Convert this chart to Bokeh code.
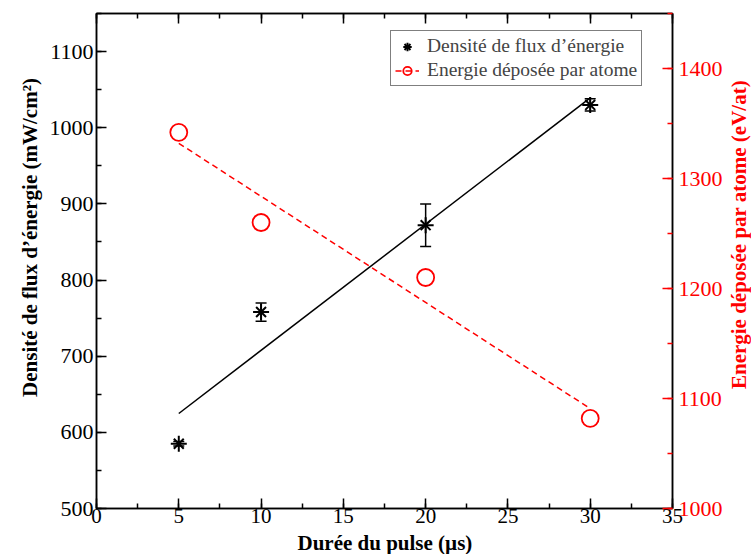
import numpy as np
from bokeh.plotting import figure
from bokeh.layouts import row, column
from bokeh.models import (Range1d, LinearAxis, SingleIntervalTicker, Whisker, TeeHead,
                          ColumnDataSource, Legend, LegendItem, CustomJSTickFormatter, Label)
from bokeh.embed import file_html
from bokeh.resources import INLINE

# ---- data ----
duree = [5, 10, 20, 30]                       # µs
densite = [585, 758, 872, 1030]               # mW/cm²
densite_err = [3, 12, 28, 8]
energie = [1342, 1260, 1210, 1082]            # eV/at

x_title = "Durée du pulse (µs)"
y_left_title = "Densité de flux d’énergie (mW/cm²)"
y_right_title = "Energie déposée par atome (eV/at)"

x_ticks_interval = 5
FONT = "Liberation Serif"

W, H = 751, 554
LEFT_W, RIGHT_W, BOTTOM_H = 44, 26, 24
MAIN_W, MAIN_H = W - LEFT_W - RIGHT_W, H - BOTTOM_H

p = figure(width=MAIN_W, height=MAIN_H, output_backend="svg", toolbar_location=None,
           x_range=Range1d(0, 35), y_range=Range1d(500, 1150),
           min_border_left=52, min_border_right=50, min_border_top=13, min_border_bottom=22,
           x_axis_location=None, y_axis_location=None)
p.grid.visible = False
p.outline_line_color = "black"
p.outline_line_width = 1.5
p.background_fill_color = "white"
p.border_fill_color = "white"
p.extra_y_ranges = {"right": Range1d(1000, 1450)}

def style(ax, color="black", size="22px"):
    ax.axis_line_color = "black"
    ax.axis_line_width = 1.5
    ax.major_tick_in = 10
    ax.major_tick_out = 0
    ax.minor_tick_in = 5
    ax.minor_tick_out = 0
    ax.major_tick_line_color = color
    ax.minor_tick_line_color = color
    ax.major_tick_line_width = 1.5
    ax.minor_tick_line_width = 1.5
    ax.major_label_text_font = FONT
    ax.major_label_text_font_size = size
    ax.major_label_text_color = color

xb = LinearAxis(ticker=SingleIntervalTicker(interval=x_ticks_interval, num_minor_ticks=2))
style(xb, size="21px")
xb.major_label_standoff = 0
p.add_layout(xb, "below")

xt = LinearAxis(ticker=SingleIntervalTicker(interval=x_ticks_interval, num_minor_ticks=2),
                formatter=CustomJSTickFormatter(code="return ''"))
style(xt)
xt.major_label_standoff = 0
p.add_layout(xt, "above")

yl = LinearAxis(ticker=SingleIntervalTicker(interval=100, num_minor_ticks=2))
style(yl)
yl.major_label_standoff = 3
p.add_layout(yl, "left")

yr = LinearAxis(y_range_name="right", ticker=SingleIntervalTicker(interval=100, num_minor_ticks=2))
style(yr, color="red")
yr.major_label_standoff = 6
p.add_layout(yr, "right")

# ---- fits ----
xs = np.array(duree, dtype=float)
fx = np.array([xs.min(), xs.max()])
k1 = np.polyfit(xs, np.array(densite, dtype=float), 1)
k2 = np.polyfit(xs, np.array(energie, dtype=float), 1)

p.line(fx, np.polyval(k1, fx), line_color="black", line_width=1.5)
red_line = p.line(fx, np.polyval(k2, fx), line_color="red", line_width=1.5,
                  line_dash="6 4", y_range_name="right")

src = ColumnDataSource(dict(x=duree, y=densite,
                            lo=[d - e for d, e in zip(densite, densite_err)],
                            hi=[d + e for d, e in zip(densite, densite_err)]))
p.add_layout(Whisker(base="x", upper="hi", lower="lo", source=src,
                     line_color="black", line_width=1.5,
                     upper_head=TeeHead(size=11, line_color="black", line_width=1.5),
                     lower_head=TeeHead(size=11, line_color="black", line_width=1.5)))
s1 = p.scatter("x", "y", source=src, marker="cross", size=16, line_color="black", line_width=2)
s2 = p.scatter("x", "y", source=src, marker="x", size=14, line_color="black", line_width=2)

c = p.scatter(duree, energie, marker="circle", size=17, fill_color=None,
              line_color="red", line_width=1.8, y_range_name="right")

legend = Legend(items=[LegendItem(label="Densité de flux d’énergie", renderers=[s1, s2]),
                       LegendItem(label="Energie déposée par atome", renderers=[red_line, c])],
                location=(294, 422))
legend.label_text_font = FONT
legend.label_text_font_size = "19.5px"
legend.border_line_color = "black"
legend.border_line_width = 1
legend.padding = 4
legend.spacing = 2
legend.margin = 0
legend.glyph_width = 24
legend.glyph_height = 21
legend.label_height = 21
legend.label_standoff = 8
legend.background_fill_alpha = 1
p.add_layout(legend, "center")

# ---- axis titles in thin companion panels ----
def title_panel(w, h):
    f = figure(width=w, height=h, output_backend="svg", toolbar_location=None,
               x_range=Range1d(0, w), y_range=Range1d(0, h),
               min_border=0, min_border_left=0, min_border_right=0,
               min_border_top=0, min_border_bottom=0,
               x_axis_location=None, y_axis_location=None)
    f.grid.visible = False
    f.outline_line_color = None
    f.background_fill_color = "white"
    f.border_fill_color = "white"
    return f

side_kw = dict(text_font=FONT, text_font_style="bold", text_font_size="21px",
               text_align="center", text_baseline="middle")

left_panel = title_panel(LEFT_W, H)
left_panel.add_layout(Label(x=29, y=H - 237, angle=np.pi / 2, text=y_left_title,
                            text_color="black", **side_kw))

right_panel = title_panel(RIGHT_W, H)
right_panel.add_layout(Label(x=13, y=H - 234, angle=np.pi / 2, text=y_right_title,
                             text_color="red", **side_kw))

bottom_panel = title_panel(MAIN_W, BOTTOM_H)
bottom_panel.add_layout(Label(x=385 - LEFT_W, y=12, text=x_title, text_color="black", **side_kw))

layout = row(left_panel, column(p, bottom_panel, spacing=0), right_panel, spacing=0)

open("out.html", "w").write(file_html(layout, INLINE))
